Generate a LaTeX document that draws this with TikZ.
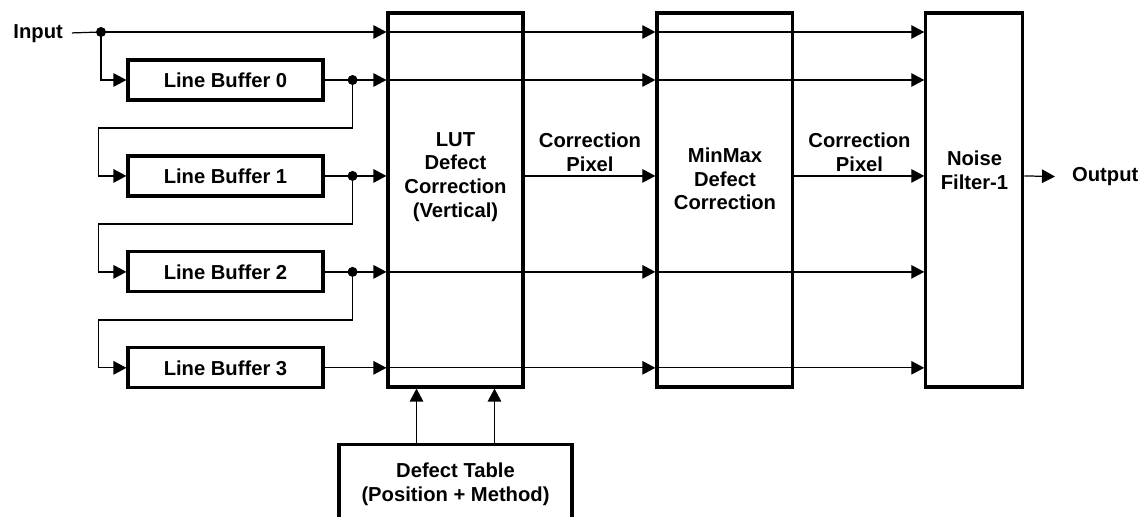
\documentclass[tikz,border=0pt]{standalone}
\usepackage{fontspec}
\setmainfont{Liberation Sans}
\usetikzlibrary{arrows.meta,positioning}

\begin{document}
\begin{tikzpicture}[x=0.02cm,y=-0.02cm,node distance=1.056cm,>={Triangle[length=0.26cm,width=0.27cm]}]
        \tikzset{
          bufbox/.style={
            draw,
            line width=1.8pt,
            minimum width=3.9cm,
            minimum height=0.8cm,
            inner sep=0pt,
            align=center,
            font=\bfseries\fontsize{11.5}{13.5}\selectfont
          },
          stagebox/.style={
            draw,
            line width=1.8pt,
            minimum height=7.48cm,
            inner sep=0pt
          },
          btext/.style={
            align=center,
            inner sep=1pt,
            font=\bfseries\fontsize{11.5}{13.5}\selectfont
          },
          sig/.style={line width=0.7pt},
          tap/.style={circle,fill,inner sep=0pt,minimum size=0.2cm}
        }
        \clip (0,0) rectangle (1146,517);
        \node[btext,inner xsep=5pt,anchor=east] (in) at (72,34) {Input};
        \node[bufbox] (lb0) at (225.5,80) {Line Buffer 0};
        \node[bufbox,below=of lb0] (lb1) {Line Buffer 1};
        \node[bufbox,below=of lb1] (lb2) {Line Buffer 2};
        \node[bufbox,below=of lb2] (lb3) {Line Buffer 3};
        \node[stagebox,minimum width=2.7cm] (lut) at (455.5,200) {};
        \node[stagebox,minimum width=2.72cm,right=2.616cm of lut] (mm) {};
        \node[stagebox,minimum width=1.94cm,right=2.596cm of mm] (nf) {};
        \node[bufbox,minimum width=4.66cm,minimum height=1.6cm,below=1.08cm of lut] (dtab) {Defect Table\\(Position + Method)};
        \node[btext] (luttxt) at (455.5,177) {LUT\\Defect\\Correction\\(Vertical)};
        \node[btext] (mmtxt) at (725,179) {MinMax\\Defect\\Correction};
        \node[btext] (nftxt) at (974.5,170) {Noise\\Filter-1};
        \node[btext] (cp0) at (590,152) {Correction\\Pixel};
        \node[btext] (cp1) at (859.5,152) {Correction\\Pixel};
        \coordinate (split) at (101,32);
        \coordinate (d0) at ([xshift=0.56cm]lb0.east);
        \coordinate (d1) at ([xshift=0.56cm]lb1.east);
        \coordinate (d2) at ([xshift=0.56cm]lb2.east);
        \node[btext,anchor=west] (out) at (1070,176.5) {Output};
        \coordinate (tl) at ([xshift=-0.78cm]dtab.north);
        \coordinate (tr) at ([xshift=0.78cm]dtab.north);
        \draw[sig] (in) -- (split);
        \draw[sig,->] (split) -- (split -| lut.west);
        \draw[sig,->] (split) |- (lb0.west);
        \foreach \i/\j in {0/1,1/2,2/3} {
          \draw[sig] (lb\i) -- (d\i);
          \draw[sig,->] (d\i) -- (d\i -| lut.west);
          \draw[sig,->] (d\i) -- ++(0,48) -| ([xshift=-0.56cm]lb\j.west) -- (lb\j.west);
        }
        \draw[sig,->] (lb3) -- (lb3 -| lut.west);
        \foreach \r in {split,d0,d2,lb3} {
          \draw[sig,->] (\r -| lut.west) -- (\r -| mm.west);
          \draw[sig,->] (\r -| mm.west) -- (\r -| nf.west);
        }
        \draw[sig,->] (d1 -| lut.east) -- (d1 -| mm.west);
        \draw[sig,->] (d1 -| mm.east) -- (d1 -| nf.west);
        \draw[sig,->] (d1 -| nf.east) -- ([xshift=-0.3cm]out.west);
        \draw[sig,->] (tl) -- (tl |- lut.south);
        \draw[sig,->] (tr) -- (tr |- lut.south);
        \foreach \p in {split,d0,d1,d2} \node[tap] at (\p) {};
      \end{tikzpicture}
\end{document}
